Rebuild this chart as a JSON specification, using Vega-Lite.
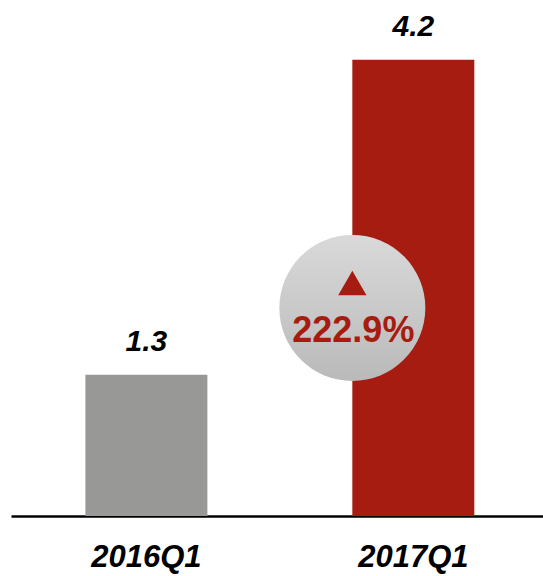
{
  "$schema": "https://vega.github.io/schema/vega-lite/v6.json",
  "width": 532,
  "height": 516,
  "autosize": {"type": "none"},
  "padding": {"left": 11, "right": 0, "top": 0, "bottom": 60},
  "background": "white",
  "config": {"view": {"stroke": null}},
  "datasets": {
    "bars": [
      {"quarter": "2016Q1", "value": 1.3},
      {"quarter": "2017Q1", "value": 4.2}
    ],
    "change": [
      {"quarter": "2017Q1", "change": "222.9%", "arrow": "up"}
    ]
  },
  "layer": [
    {
      "data": {"name": "bars"},
      "mark": {"type": "bar"},
      "encoding": {
        "x": {
          "field": "quarter",
          "type": "nominal",
          "sort": null,
          "scale": {"paddingInner": 0.543, "paddingOuter": 0.268, "align": 0.52},
          "axis": {
            "title": null,
            "labelAngle": 0,
            "domainColor": "#000000",
            "domainWidth": 2.5,
            "ticks": false,
            "tickSize": 0,
            "labelFont": "Liberation Sans",
            "labelFontSize": 31,
            "labelFontWeight": "bold",
            "labelFontStyle": "italic",
            "labelColor": "#000000",
            "labelBaseline": "alphabetic",
            "labelPadding": 50
          }
        },
        "y": {
          "field": "value",
          "type": "quantitative",
          "scale": {"domain": [0, 4.75], "nice": false},
          "axis": null
        },
        "color": {
          "field": "quarter",
          "type": "nominal",
          "scale": {"domain": ["2016Q1", "2017Q1"], "range": ["#989897", "#a61c10"]},
          "legend": null
        }
      }
    },
    {
      "data": {"name": "bars"},
      "mark": {
        "type": "text",
        "baseline": "alphabetic",
        "dy": -24,
        "font": "Liberation Sans",
        "fontSize": 30,
        "fontWeight": "bold",
        "fontStyle": "italic",
        "color": "#000000"
      },
      "encoding": {
        "x": {"field": "quarter", "type": "nominal", "sort": null},
        "y": {"field": "value", "type": "quantitative"},
        "text": {"field": "value", "type": "quantitative", "format": ".1f"}
      }
    },
    {
      "data": {"name": "change"},
      "mark": {
        "type": "point",
        "shape": "circle",
        "filled": true,
        "opacity": 1,
        "size": 21316,
        "strokeWidth": 0,
        "fill": {
          "gradient": "linear",
          "x1": 0, "y1": 0, "x2": 0, "y2": 1,
          "stops": [
            {"offset": 0, "color": "#d9d9d9"},
            {"offset": 1, "color": "#bababa"}
          ]
        }
      },
      "encoding": {
        "x": {"field": "quarter", "type": "nominal", "bandPosition": 0},
        "y": {"datum": 1.915, "type": "quantitative"}
      }
    },
    {
      "data": {"name": "change"},
      "mark": {
        "type": "point",
        "shape": "triangle-up",
        "filled": true,
        "opacity": 1,
        "size": 800,
        "color": "#a61c10"
      },
      "encoding": {
        "x": {"field": "quarter", "type": "nominal", "bandPosition": 0},
        "y": {"datum": 2.145, "type": "quantitative"}
      }
    },
    {
      "data": {"name": "change"},
      "mark": {
        "type": "text",
        "baseline": "alphabetic",
        "align": "center",
        "dx": 1,
        "font": "Liberation Sans",
        "fontSize": 36,
        "fontWeight": "bold",
        "color": "#a61c10"
      },
      "encoding": {
        "x": {"field": "quarter", "type": "nominal", "bandPosition": 0},
        "y": {"datum": 1.602, "type": "quantitative"},
        "text": {"field": "change"}
      }
    }
  ]
}
